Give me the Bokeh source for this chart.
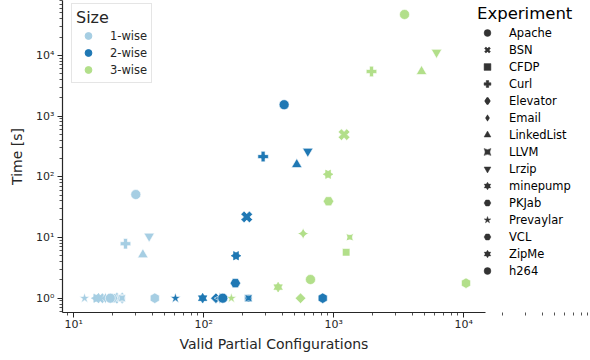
import math
from bokeh.plotting import figure
from bokeh.models import (Range1d, FixedTicker, CustomJSTickFormatter, Legend,
                          LegendItem, ColumnDataSource, Title)
from bokeh.core.properties import field
from bokeh.embed import file_html
from bokeh.resources import INLINE

# ---------------- data ----------------
experiments = ["Apache", "BSN", "CFDP", "Curl", "Elevator", "Email", "LinkedList",
               "LLVM", "Lrzip", "minepump", "PKJab", "Prevaylar", "VCL", "ZipMe", "h264"]
sizes = ["1-wise", "2-wise", "3-wise"]

configs_1wise = [30, 22.5, 23.3, 25, 16.6, 17.5, 34, 23.5, 38, 14.9, 19.9, 12.1, 42, 15.5, 19.1]
time_1wise = [51, 1, 1, 7.9, 1, 1, 5.2, 1, 10.5, 1, 1, 1, 1, 1, 1]

configs_2wise = [415, 214, 220, 286, 124, 133, 519, 221, 631, 177, 175, 60.5, 822, 98, 140]
time_2wise = [1540, 21.8, 1, 215, 1, 1, 159, 1, 263, 5.0, 1.77, 1, 1, 1, 1]

configs_3wise = [3500, 1200, 1245, 1950, 555, 581, 4730, 1327, 6170, 904, 910, 163, 10400, 373, 662]
time_3wise = [47200, 495, 5.7, 5430, 1, 11.6, 5430, 10.1, 11200, 110, 39.5, 1, 1.77, 1.52, 2.03]

x_ticks = [10, 100, 1000, 10000]
y_ticks = [1, 10, 100, 1000, 10000]

# ---------------- style ----------------
size_colors = ["#a6cee3", "#1f78b4", "#b2df8a"]
ink = "#262626"
FONT = "DejaVu Sans"
Q = math.pi / 4
H = math.pi / 2
NAN = float("nan")
X_AXIS_START, X_AXIS_END = 8.19, 14700     # visible extent of the x axis
X_VIEW_END = 94300                          # frame extends under the outside legend
# (marker, size, angle, white outline)
marker_spec = {
    "Apache": [("circle", 10, 0, True)],
    "BSN": [("plus", 12, Q, True)],
    "CFDP": [("square", 7.5, 0, True)],
    "Curl": [("plus", 10.5, 0, True)],
    "Elevator": [("square", 7.5, Q, True)],
    "Email": [("square_pin", 8, Q, True)],
    "LinkedList": [("triangle", 10.5, 0, True)],
    "LLVM": [("square_pin", 7.5, 0, True)],
    "Lrzip": [("inverted_triangle", 10.5, 0, True)],
    "minepump": [("triangle", 8.5, H, False), ("inverted_triangle", 8.5, H, False)],
    "PKJab": [("hex", 10.5, 0, True)],
    "Prevaylar": [("star", 11, 0, True)],
    "VCL": [("hex", 10.5, H, True)],
    "ZipMe": [("triangle", 8.5, 0, False), ("inverted_triangle", 8.5, 0, False)],
    "h264": [("circle", 10, 0, True)],
}
# legend glyphs are never rotated by Bokeh, so use unrotated look-alikes there
legend_marker_spec = {
    "Apache": [("circle", 0.5)],
    "BSN": [("x", 2.4)],
    "CFDP": [("square", 0.5)],
    "Curl": [("plus", 0.5)],
    "Elevator": [("diamond", 1.6)],
    "Email": [("diamond", 0.1)],
    "LinkedList": [("triangle", 0.5)],
    "LLVM": [("square_pin", 0.5)],
    "Lrzip": [("inverted_triangle", 0.5)],
    "minepump": [("triangle", 0.3), ("inverted_triangle", 0.3)],
    "PKJab": [("hex", 0.5)],
    "Prevaylar": [("star", 0.5)],
    "VCL": [("hex", 0.5)],
    "ZipMe": [("triangle", 0.3), ("inverted_triangle", 0.3)],
    "h264": [("circle", 0.5)],
}

p = figure(width=590, height=360, x_axis_type="log", y_axis_type="log",
           x_range=Range1d(X_AXIS_START, X_VIEW_END), y_range=Range1d(0.581, 80200),
           output_backend="svg", toolbar_location=None,
           min_border_left=62, min_border_right=0, min_border_top=0,
           min_border_bottom=48)
p.outline_line_color = None
p.xgrid.visible = False
p.ygrid.visible = False
p.background_fill_color = "white"
p.border_fill_color = "white"

# ---------------- data marks ----------------
for i, exp in enumerate(experiments):
    src = ColumnDataSource(dict(
        x=[configs_1wise[i], configs_2wise[i], configs_3wise[i]],
        y=[time_1wise[i], time_2wise[i], time_3wise[i]],
        c=size_colors))
    for mk, sz, ang, outline in marker_spec[exp]:
        p.scatter("x", "y", source=src, marker=mk, size=sz, angle=ang,
                  fill_color=field("c"),
                  line_color=("white" if outline else field("c")),
                  line_width=0.6)

# ---------------- axes ----------------
minor_x = [m * 10 ** k for k in range(0, 5) for m in range(2, 10)]
minor_y = [m * 10 ** k for k in range(-1, 5) for m in range(2, 10)]
p.xaxis.ticker = FixedTicker(ticks=x_ticks, minor_ticks=minor_x)
p.yaxis.ticker = FixedTicker(ticks=y_ticks, minor_ticks=minor_y)
p.xaxis.bounds = (X_AXIS_START, X_AXIS_END)

fmt_code = """
const sup = {"-":"\u207b","0":"\u2070","1":"\u00b9","2":"\u00b2","3":"\u00b3",
             "4":"\u2074","5":"\u2075","6":"\u2076","7":"\u2077","8":"\u2078","9":"\u2079"};
const e = Math.round(Math.log10(tick));
return "10" + String(e).split("").map(c => sup[c]).join("");
"""
for ax in (p.xaxis[0], p.yaxis[0]):
    ax.formatter = CustomJSTickFormatter(code=fmt_code)
    ax.axis_line_color = ink
    ax.axis_line_width = 1.2
    ax.major_tick_line_color = ink
    ax.minor_tick_line_color = ink
    ax.major_tick_line_width = 1
    ax.minor_tick_line_width = 0.8
    ax.major_tick_in = 0
    ax.minor_tick_in = 0
    ax.major_tick_out = 5
    ax.minor_tick_out = 3
    ax.major_label_text_font = FONT
    ax.major_label_text_font_size = "11px"
    ax.major_label_text_color = ink
    ax.axis_label_text_font = FONT
    ax.axis_label_text_font_size = "14px"
    ax.axis_label_text_font_style = "normal"
    ax.axis_label_text_color = ink

p.yaxis.axis_label = "Time [s]"
p.xaxis.major_label_standoff = 0
p.yaxis.major_label_standoff = 3
p.yaxis.axis_label_standoff = 8

# x-axis label, centred under the visible part of the x axis
x_label = Title(text="Valid Partial Configurations", align="left", offset=117,
                text_font=FONT, text_font_size="14px", text_font_style="normal",
                text_color=ink, standoff=1)
p.add_layout(x_label, "below")

# ---------------- legends ----------------
size_items = []
for s, c in zip(sizes, size_colors):
    r = p.scatter(x=[NAN], y=[NAN], marker="circle", fill_color=c, line_color=c)
    size_items.append(LegendItem(label=s, renderers=[r]))

leg_size = Legend(items=size_items, title="Size", location=(9, 229),
                  title_text_font=FONT, title_text_font_size="16px",
                  title_text_font_style="normal", title_text_color=ink,
                  label_text_font=FONT, label_text_font_size="11.5px",
                  label_text_color=ink,
                  glyph_width=24, glyph_height=17, label_height=17, spacing=0,
                  label_standoff=10, padding=4, title_standoff=0, margin=0,
                  border_line_color="#cccccc", border_line_width=1,
                  background_fill_color="white", background_fill_alpha=0.8)
p.add_layout(leg_size, "center")

exp_items = []
for exp in experiments:
    rs = []
    for mk, lw in legend_marker_spec[exp]:
        rs.append(p.scatter(x=[NAN], y=[NAN], marker=mk,
                            fill_color="#333333", line_color="#333333", line_width=lw))
    exp_items.append(LegendItem(label=exp, renderers=rs))

leg_exp = Legend(items=exp_items, title="Experiment", location=(415, 33),
                 title_text_font=FONT, title_text_font_size="16.5px",
                 title_text_font_style="normal", title_text_color="black",
                 label_text_font=FONT, label_text_font_size="11.5px",
                 label_text_color="black",
                 glyph_width=20, glyph_height=17, label_height=17, spacing=0,
                 label_standoff=12, padding=0, title_standoff=1, margin=0,
                 border_line_color=None, background_fill_alpha=0)
p.add_layout(leg_exp, "center")

open("out.html", "w").write(file_html(p, INLINE))
